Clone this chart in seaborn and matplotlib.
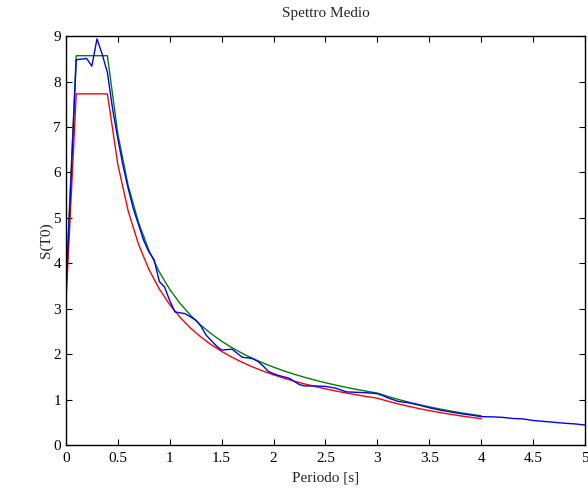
import numpy as np
import pandas as pd
import seaborn as sns
import matplotlib
matplotlib.use("Agg")
import matplotlib.pyplot as plt

# spettro medio (blue)
periodo_medio = [0.0, 0.1, 0.2, 0.25, 0.3, 0.35, 0.4, 0.45, 0.5, 0.55, 0.6, 0.65, 0.7, 0.75,
                 0.8, 0.85, 0.9, 0.95, 1.0, 1.05, 1.1, 1.15, 1.2, 1.25, 1.3, 1.35, 1.4, 1.45,
                 1.5, 1.55, 1.6, 1.65, 1.7, 1.75, 1.8, 1.85, 1.9, 1.95, 2.0, 2.05, 2.1, 2.15,
                 2.2, 2.25, 2.3, 2.4, 2.5, 2.6, 2.7, 2.8, 2.9, 3.0, 3.05, 3.1, 3.2, 3.3, 3.4,
                 3.5, 3.6, 3.7, 3.8, 3.9, 4.0, 4.1, 4.2, 4.3, 4.4, 4.5, 4.6, 4.7, 4.8, 4.9, 5.0]
s_medio = [3.3, 8.48, 8.51, 8.34, 8.94, 8.6, 8.2, 7.4, 6.75, 6.15, 5.65, 5.2, 4.85, 4.5,
           4.25, 4.08, 3.6, 3.48, 3.18, 2.93, 2.91, 2.89, 2.82, 2.75, 2.62, 2.42, 2.3, 2.18,
           2.09, 2.1, 2.11, 2.02, 1.93, 1.92, 1.9, 1.84, 1.74, 1.62, 1.57, 1.53, 1.5, 1.47,
           1.4, 1.33, 1.3, 1.3, 1.29, 1.25, 1.17, 1.16, 1.15, 1.13, 1.09, 1.04, 0.96, 0.93, 0.88,
           0.82, 0.77, 0.73, 0.69, 0.66, 0.625, 0.62, 0.61, 0.585, 0.575, 0.54, 0.52, 0.5, 0.48, 0.465, 0.44]

# spettri di normativa (green / red)
periodo_norma = [0.0, 0.1, 0.4, 0.5, 0.6, 0.7, 0.8, 0.9, 1.0, 1.1, 1.2, 1.3, 1.4, 1.5, 1.6,
                 1.7, 1.8, 1.9, 2.0, 2.1, 2.2, 2.3, 2.4, 2.5, 2.6, 2.7, 2.8, 2.9, 3.0, 3.1,
                 3.2, 3.3, 3.4, 3.5, 3.6, 3.7, 3.8, 3.9, 4.0]
s_verde = [3.43, 8.57, 8.57, 6.856, 5.713, 4.897, 4.285, 3.809, 3.428, 3.116, 2.857, 2.637,
           2.449, 2.285, 2.143, 2.016, 1.904, 1.804, 1.714, 1.632, 1.558, 1.49, 1.428, 1.371,
           1.318, 1.27, 1.224, 1.182, 1.143, 1.07, 1.004, 0.944, 0.89, 0.84, 0.794, 0.751,
           0.712, 0.676, 0.643]
s_rosso = [3.09, 7.73, 7.73, 6.184, 5.153, 4.417, 3.865, 3.436, 3.092, 2.811, 2.577, 2.378,
           2.209, 2.061, 1.933, 1.819, 1.718, 1.627, 1.546, 1.472, 1.405, 1.344, 1.288, 1.237,
           1.189, 1.145, 1.104, 1.066, 1.031, 0.965, 0.906, 0.852, 0.802, 0.757, 0.716, 0.678,
           0.642, 0.61, 0.58]

sns.set_style("ticks")
plt.rcParams['font.family'] = ['Liberation Serif', 'DejaVu Serif']
plt.rcParams['xtick.direction'] = 'in'
plt.rcParams['ytick.direction'] = 'in'

f = plt.figure(figsize=(5.88, 4.92), dpi=100)
ax = f.add_axes([0.112, 0.0955, 0.883, 0.831])

sns.lineplot(x=periodo_norma, y=s_verde, color=(0, 0.5, 0), linewidth=1.0, ax=ax, sort=False)
sns.lineplot(x=periodo_norma, y=s_rosso, color=(1, 0, 0), linewidth=1.0, ax=ax, sort=False)
sns.lineplot(x=periodo_medio, y=s_medio, color=(0, 0, 1), linewidth=1.0, ax=ax, sort=False)

ax.set_xlim(0, 5)
ax.set_ylim(0, 9)
ax.set_xticks(np.arange(0, 5.01, 0.5))
ax.set_yticks(np.arange(0, 10, 1))
ax.set_xticklabels(['0', '0.5', '1', '1.5', '2', '2.5', '3', '3.5', '4', '4.5', '5'])
ax.tick_params(axis='both', labelsize=11, top=True, right=True, length=4, width=0.8, colors='black')
ax.tick_params(axis='x', pad=5)
for s in ax.spines.values():
    s.set_visible(True)
    s.set_linewidth(1.0)
    s.set_color('black')

ax.set_xlabel('Periodo [s]', fontsize=11, labelpad=5)
ax.set_ylabel('S(T0)', fontsize=11, labelpad=0)
ax.set_title('Spettro Medio', fontsize=11, pad=14)

plt.savefig("out.png", dpi=100)
